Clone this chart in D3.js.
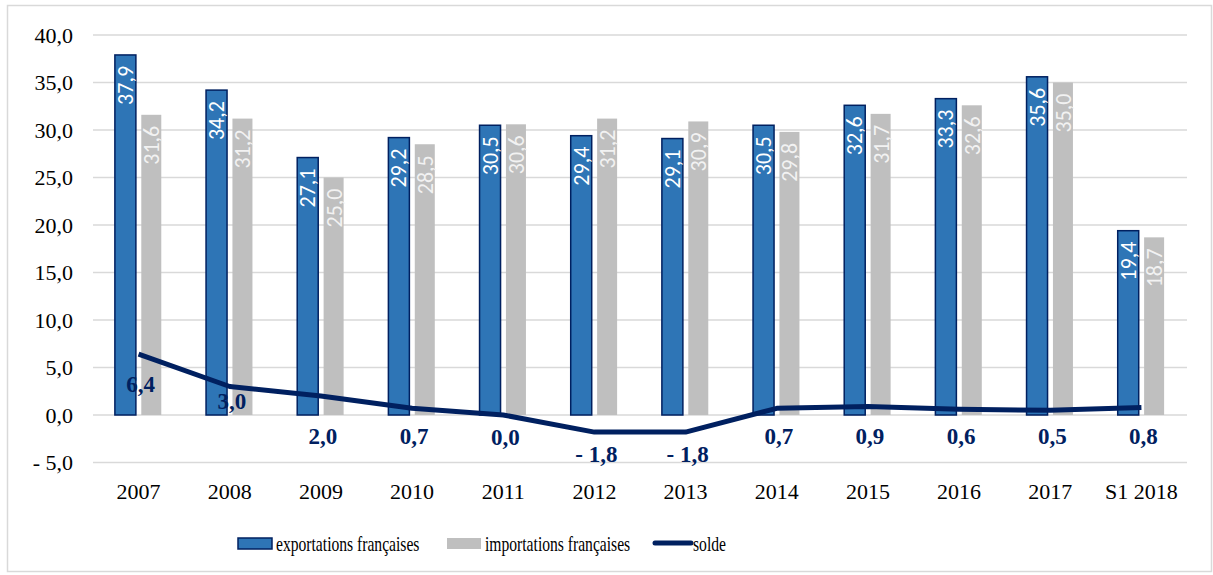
<!DOCTYPE html>
<html>
<head>
<meta charset="utf-8">
<script src="https://cdn.jsdelivr.net/npm/d3@7"></script>
<style>
  body { margin: 0; background: #fff; }
</style>
</head>
<body>
<div id="chart"></div>
<script>
const WIDTH = 1213;
const HEIGHT = 575;
const SERIF = "'Liberation Serif', 'Times New Roman', Tinos, 'DejaVu Serif', serif";

const years = ["2007", "2008", "2009", "2010", "2011", "2012", "2013", "2014", "2015", "2016", "2017", "S1 2018"];
const exportations = [37.9, 34.2, 27.1, 29.2, 30.5, 29.4, 29.1, 30.5, 32.6, 33.3, 35.6, 19.4];
const importations = [31.6, 31.2, 25.0, 28.5, 30.6, 31.2, 30.9, 29.8, 31.7, 32.6, 35.0, 18.7];
const solde = [6.4, 3.0, 2.0, 0.7, 0.0, -1.8, -1.8, 0.7, 0.9, 0.6, 0.5, 0.8];
const yTicks = [-5, 0, 5, 10, 15, 20, 25, 30, 35, 40];

const BLUE = "#2e75b6";
const NAVY = "#002060";
const GREY = "#bfbfbf";
const BAR_W = 21;
const BAR_OFFSET = 13.2;

// French number format: 37,9 and "- 1,8"
const fmt = v => (v < 0 ? "- " : "") + Math.abs(v).toFixed(1).replace(".", ",");

const svg = d3.select("#chart").append("svg")
    .attr("width", WIDTH)
    .attr("height", HEIGHT)
    .attr("font-family", SERIF);

// outer frame
svg.append("rect")
    .attr("x", 7.5).attr("y", 5.5)
    .attr("width", 1204).attr("height", 566)
    .attr("fill", "none").attr("stroke", "#d9d9d9").attr("stroke-width", 1.5);

const x = d3.scaleBand().domain(years).range([93, 1187]);
const y = d3.scaleLinear().domain([-5, 40]).range([462.5, 35]);
const cx = d => x(d) + x.bandwidth() / 2;

// gridlines
svg.append("g").selectAll("line")
    .data(yTicks)
    .join("line")
    .attr("x1", 93).attr("x2", 1187)
    .attr("y1", d => y(d)).attr("y2", d => y(d))
    .attr("stroke", "#d9d9d9").attr("stroke-width", 1.5);

// y axis labels
svg.append("g").selectAll("text")
    .data(yTicks)
    .join("text")
    .attr("x", 73).attr("y", d => y(d) + 7.5)
    .attr("text-anchor", "end")
    .attr("font-family", SERIF)
    .attr("font-size", 22)
    .attr("fill", "#000")
    .text(fmt);

// x axis labels
svg.append("g").selectAll("text")
    .data(years)
    .join("text")
    .attr("x", d => cx(d)).attr("y", 499)
    .attr("text-anchor", "middle")
    .attr("font-family", SERIF)
    .attr("font-size", 22)
    .attr("fill", "#000")
    .text(d => d);

// bars
svg.append("g").selectAll("rect")
    .data(exportations)
    .join("rect")
    .attr("x", (d, i) => cx(years[i]) - BAR_OFFSET - BAR_W / 2)
    .attr("y", d => y(d))
    .attr("width", BAR_W)
    .attr("height", d => y(0) - y(d))
    .attr("fill", BLUE).attr("stroke", NAVY).attr("stroke-width", 1.5);

svg.append("g").selectAll("rect")
    .data(importations)
    .join("rect")
    .attr("x", (d, i) => cx(years[i]) + BAR_OFFSET - BAR_W / 2)
    .attr("y", d => y(d))
    .attr("width", BAR_W - 1)
    .attr("height", d => y(0) - y(d))
    .attr("fill", GREY);

// bar value labels, rotated, inside the top of the bar
function barLabels(data, dx, colour) {
    svg.append("g").selectAll("text")
        .data(data)
        .join("text")
        .attr("transform", (d, i) => `translate(${cx(years[i]) + dx + 7.5},${y(d) + 11}) rotate(-90)`)
        .attr("text-anchor", "end")
        .attr("font-family", "Carlito, 'Open Sans', sans-serif")
        .attr("font-size", 22)
        .attr("fill", colour)
        .text(fmt);
}
barLabels(exportations, -BAR_OFFSET, "#fff");
barLabels(importations, BAR_OFFSET, "#f2f2f2");

// solde line
const line = d3.line()
    .x((d, i) => cx(years[i]))
    .y(d => y(d));

svg.append("path")
    .datum(solde)
    .attr("d", line)
    .attr("fill", "none")
    .attr("stroke", NAVY)
    .attr("stroke-width", 5)
    .attr("stroke-linejoin", "round");

// solde labels below the line
const labelY = v => v > 2.5 ? Math.min(y(v) + 30, y(0) - 14) : Math.max(y(v) + 22, y(0) + 21);
svg.append("g").selectAll("text")
    .data(solde)
    .join("text")
    .attr("x", (d, i) => cx(years[i]) + 2)
    .attr("y", d => labelY(d) + 8)
    .attr("text-anchor", "middle")
    .attr("font-family", SERIF)
    .attr("font-size", 23)
    .attr("font-weight", "bold")
    .attr("fill", NAVY)
    .text(fmt);

// legend
const legend = svg.append("g").attr("transform", "translate(0,543)");
const legendItems = [
    { label: "exportations françaises", x: 238, type: "export" },
    { label: "importations françaises", x: 447, type: "import" },
    { label: "solde", x: 655, type: "line" }
];
legendItems.forEach(item => {
    if (item.type === "export") {
        legend.append("rect").attr("x", item.x).attr("y", -5).attr("width", 34).attr("height", 11)
            .attr("fill", BLUE).attr("stroke", NAVY).attr("stroke-width", 1.5);
    } else if (item.type === "import") {
        legend.append("rect").attr("x", item.x).attr("y", -5).attr("width", 34).attr("height", 11)
            .attr("fill", GREY);
    } else {
        legend.append("line").attr("x1", item.x).attr("x2", item.x + 36).attr("y1", 0).attr("y2", 0)
            .attr("stroke", NAVY).attr("stroke-width", 5).attr("stroke-linecap", "round");
    }
    legend.append("text")
        .attr("transform", `translate(${item.x + 38},8) scale(0.71,1)`)
        .attr("font-family", SERIF)
        .attr("font-size", 22)
        .attr("fill", "#000")
        .text(item.label);
});
</script>
</body>
</html>
